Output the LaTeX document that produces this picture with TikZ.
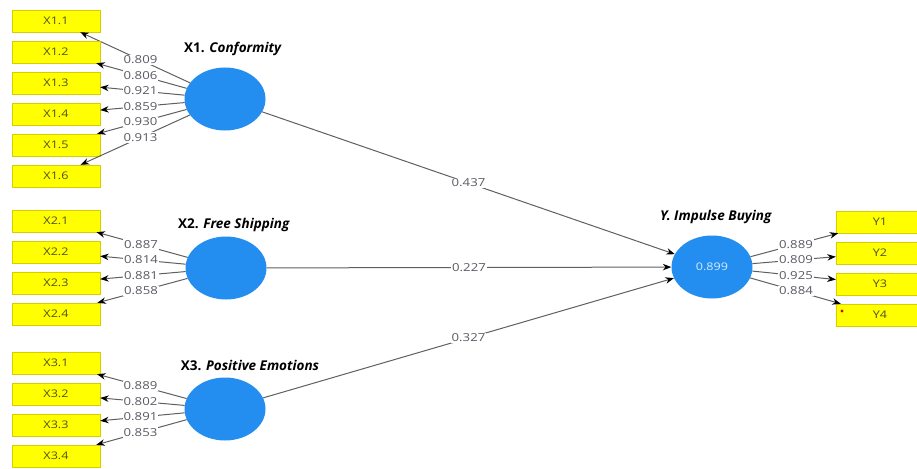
\documentclass[tikz,border=0pt]{standalone}
\usepackage{fontspec}
\setmainfont{Open Sans}
\newfontfamily\stretchfont{Open Sans}[FakeStretch=1.2]
\usetikzlibrary{arrows.meta,shapes.geometric,calc}
\definecolor{boxfill}{RGB}{255,255,0}
\definecolor{boxline}{RGB}{215,205,0}
\definecolor{boxtext}{RGB}{80,80,35}
\definecolor{lvfill}{RGB}{35,142,240}
\definecolor{lvtext}{RGB}{215,235,255}
\definecolor{edgecol}{RGB}{95,95,95}
\definecolor{coefcol}{RGB}{90,90,100}
\begin{document}
\begin{tikzpicture}[x=1pt,y=-1pt,
  ind/.style={draw=boxline,fill=boxfill,minimum width=88pt,minimum height=22pt,inner sep=0pt,
    font=\stretchfont\fontsize{10.5}{12}\selectfont,text=boxtext},
  lvnode/.style={ellipse,fill=lvfill,minimum width=81pt,minimum height=63pt,inner sep=0pt,
    font=\stretchfont\fontsize{10.5}{12}\selectfont,text=lvtext},
  conn/.style={draw=edgecol,line width=1pt,-{Stealth[length=8.5pt,width=6.5pt,color=black]}},
  coef/.style={fill=white,inner sep=1pt,font=\stretchfont\fontsize{11}{12}\selectfont,text=coefcol},
  title/.style={font=\bfseries\fontsize{13.5}{15}\selectfont,text=black}
]
\useasboundingbox (0,0) rectangle (917,468);

% latent variables
\node[lvnode] (e1) at (225,99) {};
\node[lvnode] (e2) at (226,268) {};
\node[lvnode] (e3) at (225,409) {};
\node[lvnode] (ey) at (712,267) {0.899};

\node[title] (t1) at (233,49) {X1. \textit{Conformity}};
\node[title] (t2) at (234,225) {X2. \textit{Free Shipping}};
\node[title] (t3) at (250,365) {X3. \textit{Positive Emotions}};
\node[title] (ty) at (716,217) {\textit{Y. Impulse Buying}};

% indicators X1
\foreach \k/\v in {1/0.809,2/0.806,3/0.921,4/0.859,5/0.930,6/0.913}{
  \node[ind] (x1\k) at (56,{21+31*(\k-1)}) {X1.\k};
  \draw[conn] (e1) -- (x1\k);
}
\foreach \k/\v in {1/0.809,2/0.806,3/0.921,4/0.859,5/0.930,6/0.913}{
  \node[coef] (l1\k) at ($(e1)!0.5!(x1\k)$) {\v};
}
% indicators X2
\foreach \k/\v in {1/0.887,2/0.814,3/0.881,4/0.858}{
  \node[ind] (x2\k) at (56,{221+31*(\k-1)}) {X2.\k};
  \draw[conn] (e2) -- (x2\k);
}
\foreach \k/\v in {1/0.887,2/0.814,3/0.881,4/0.858}{
  \node[coef] (l2\k) at ($(e2)!0.5!(x2\k)$) {\v};
}
% indicators X3
\foreach \k/\v in {1/0.889,2/0.802,3/0.891,4/0.853}{
  \node[ind] (x3\k) at (56,{363+31*(\k-1)}) {X3.\k};
  \draw[conn] (e3) -- (x3\k);
}
\foreach \k/\v in {1/0.889,2/0.802,3/0.891,4/0.853}{
  \node[coef] (l3\k) at ($(e3)!0.5!(x3\k)$) {\v};
}
% indicators Y
\foreach \k/\v in {1/0.889,2/0.809,3/0.925,4/0.884}{
  \node[ind] (y\k) at (880,{222+31*(\k-1)}) {Y\k};
  \draw[conn] (ey) -- (y\k);
}
\foreach \k/\v in {1/0.889,2/0.809,3/0.925,4/0.884}{
  \node[coef] (ly\k) at ($(ey)!0.5!(y\k)$) {\v};
}

% structural paths
\draw[conn] (e1) -- (ey);
\draw[conn] (e2) -- (ey);
\draw[conn] (e3) -- (ey);
\node[coef] (p1) at ($(e1)!0.5!(ey)$) {0.437};
\node[coef] (p2) at ($(e2)!0.5!(ey)$) {0.227};
\node[coef] (p3) at ($(e3)!0.5!(ey)$) {0.327};

% small red mark on Y4
\fill[red!85!black] (842,311) circle (1.6);
\end{tikzpicture}
\end{document}
